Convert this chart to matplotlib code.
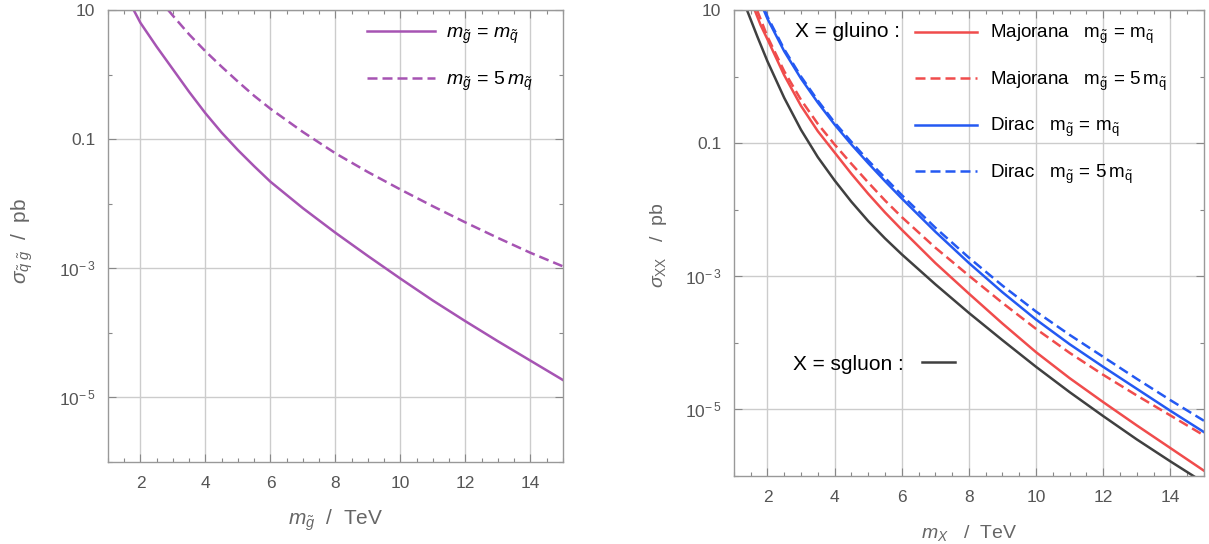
import numpy as np
import matplotlib
matplotlib.use("Agg")
import matplotlib.pyplot as plt
from matplotlib.ticker import FixedLocator, FixedFormatter, MultipleLocator, NullFormatter
from matplotlib.lines import Line2D

plt.rcParams['font.family'] = ['Liberation Sans', 'DejaVu Sans']
plt.rcParams['mathtext.fontset'] = 'custom'
plt.rcParams['mathtext.rm'] = 'Liberation Sans'
plt.rcParams['mathtext.it'] = 'Liberation Sans:italic'
plt.rcParams['mathtext.bf'] = 'Liberation Sans:bold'

# left panel: squark-gluino cross section (log10 of pb)
sq_x_equal = [1.79, 2, 2.5, 3, 3.5, 4, 4.5, 5, 5.5, 6, 7, 8, 9, 10, 11, 12, 13, 14, 15]
sq_log_equal = [1.0, 0.8, 0.43, 0.08, -0.27, -0.6, -0.9, -1.17, -1.42, -1.66, -2.07,
                -2.45, -2.81, -3.16, -3.5, -3.82, -4.13, -4.43, -4.73]
sq_x_five = [2.85, 3, 3.5, 4, 4.5, 5, 5.5, 6, 7, 8, 9, 10, 11, 12, 13, 14, 15]
sq_log_five = [1.0, 0.91, 0.62, 0.36, 0.12, -0.11, -0.33, -0.53, -0.89, -1.22, -1.51,
               -1.78, -2.04, -2.29, -2.53, -2.76, -2.97]

# right panel: pair production of X (log10 of pb)
sgluon_x = [1.39, 1.7, 2, 2.5, 3, 3.5, 4, 4.5, 5, 5.5, 6, 7, 8, 9, 10, 11, 12, 13, 14, 14.75]
sgluon_log = [1.0, 0.6, 0.23, -0.32, -0.8, -1.21, -1.56, -1.88, -2.17, -2.43, -2.67,
              -3.12, -3.55, -3.96, -4.36, -4.74, -5.1, -5.45, -5.78, -6.02]
maj_eq_x = [1.62, 1.8, 2, 2.5, 3, 3.5, 4, 4.5, 5, 5.5, 6, 7, 8, 9, 10, 11, 12, 13, 14, 15]
maj_eq_log = [1.0, 0.77, 0.56, 0.02, -0.44, -0.82, -1.14, -1.46, -1.76, -2.04, -2.3,
              -2.8, -3.26, -3.71, -4.14, -4.53, -4.89, -5.24, -5.58, -5.92]
maj_five_x = [1.69, 2, 2.5, 3, 3.5, 4, 4.5, 5, 5.5, 6, 7, 8, 9, 10, 11, 12, 13, 14, 15]
maj_five_log = [1.0, 0.6, 0.08, -0.35, -0.71, -1.02, -1.31, -1.59, -1.86, -2.11, -2.57,
                -2.99, -3.4, -3.79, -4.15, -4.48, -4.79, -5.09, -5.39]
dir_eq_x = [1.89, 2, 2.5, 3, 3.5, 4, 4.5, 5, 5.5, 6, 7, 8, 9, 10, 11, 12, 13, 14, 15]
dir_eq_log = [1.0, 0.87, 0.38, -0.03, -0.39, -0.72, -1.02, -1.3, -1.57, -1.83, -2.33,
              -2.8, -3.24, -3.65, -4.02, -4.36, -4.69, -5.02, -5.34]
dir_five_x = [1.92, 2, 2.5, 3, 3.5, 4, 4.5, 5, 5.5, 6, 7, 8, 9, 10, 11, 12, 13, 14, 15]
dir_five_log = [1.0, 0.9, 0.41, 0.0, -0.36, -0.69, -0.98, -1.26, -1.52, -1.78, -2.27,
                -2.72, -3.14, -3.53, -3.88, -4.21, -4.54, -4.86, -5.17]

ytick_vals = [10, 0.1, 1e-3, 1e-5]
ytick_labels = ['10', '0.1', r'$\mathregular{10^{-\,3}}$', r'$\mathregular{10^{-\,5}}$']
yminor_vals = [1, 1e-2, 1e-4, 1e-6]

purple = '#a654b3'
red = '#f04c4c'
blue = '#2459f2'
dark = '#404040'
gray_txt = '#666666'

fig = plt.figure(figsize=(12.09, 5.44), dpi=100)
axL = fig.add_axes([0.0893, 0.1507, 0.3763, 0.831])
axR = fig.add_axes([0.607, 0.125, 0.3888, 0.8566])


def style_axes(ax):
    ax.set_yscale('log')
    ax.set_xlim(1, 15)
    ax.set_ylim(1e-6, 10)
    ax.xaxis.set_major_locator(MultipleLocator(2))
    ax.xaxis.set_minor_locator(MultipleLocator(0.5))
    ax.yaxis.set_major_locator(FixedLocator(ytick_vals))
    ax.yaxis.set_major_formatter(FixedFormatter(ytick_labels))
    ax.yaxis.set_minor_locator(FixedLocator(yminor_vals))
    ax.yaxis.set_minor_formatter(NullFormatter())
    ax.tick_params(which='both', direction='in', top=True, right=True,
                   color='#888888', labelcolor='#555555', labelsize=12.5)
    ax.tick_params(which='major', length=6, width=0.8)
    ax.tick_params(which='minor', length=3, width=0.8)
    ax.tick_params(axis='x', which='major', pad=10)
    ax.tick_params(axis='y', which='major', pad=9)
    ax.grid(True, which='major', color='#cccccc', lw=1.0)
    for s in ax.spines.values():
        s.set_color('#999999')
        s.set_linewidth(1.0)


style_axes(axL)
style_axes(axR)

# left panel
l1, = axL.plot(sq_x_equal, 10 ** np.array(sq_log_equal), color=purple, lw=1.8,
               label=r'$m_{\tilde{g}}\,=\,m_{\tilde{q}}$')
l2, = axL.plot(sq_x_five, 10 ** np.array(sq_log_five), color=purple, lw=1.8,
               ls=(0, (4, 2)), label=r'$m_{\tilde{g}}\,=\,\mathregular{5}\,m_{\tilde{q}}$')
axL.legend(handles=[l1, l2], loc='upper left', bbox_to_anchor=(0.57, 0.968),
           frameon=False, fontsize=14, handlelength=3.5, handletextpad=0.55,
           labelspacing=1.2, borderaxespad=0, borderpad=0)
axL.set_xlabel(r'$m_{\tilde{g}}$  /  TeV', fontsize=15, color=gray_txt)
axL.set_ylabel(r'$\sigma_{\tilde{q}\;\tilde{g}}$  /  pb', fontsize=15, color=gray_txt)
axL.xaxis.set_label_coords(0.5, -0.1)
axL.yaxis.set_label_coords(-0.16, 0.49)

# right panel
r_sg, = axR.plot(sgluon_x, 10 ** np.array(sgluon_log), color=dark, lw=1.8)
r1, = axR.plot(maj_eq_x, 10 ** np.array(maj_eq_log), color=red, lw=1.8,
               label=r'Majorana   $\mathregular{m_{\tilde{g}}\,=\,m_{\tilde{q}}}$')
r2, = axR.plot(maj_five_x, 10 ** np.array(maj_five_log), color=red, lw=1.8, ls=(0, (4, 2)),
               label=r'Majorana   $\mathregular{m_{\tilde{g}}\,=\,5\,m_{\tilde{q}}}$')
r3, = axR.plot(dir_eq_x, 10 ** np.array(dir_eq_log), color=blue, lw=1.8,
               label=r'Dirac   $\mathregular{m_{\tilde{g}}\,=\,m_{\tilde{q}}}$')
r4, = axR.plot(dir_five_x, 10 ** np.array(dir_five_log), color=blue, lw=1.8, ls=(0, (4, 2)),
               label=r'Dirac   $\mathregular{m_{\tilde{g}}\,=\,5\,m_{\tilde{q}}}$')

leg1 = axR.legend(handles=[r1, r2, r3, r4], loc='upper left', bbox_to_anchor=(0.385, 0.972),
                  frameon=False, fontsize=13.5, handlelength=3.3, handletextpad=0.7,
                  labelspacing=1.24, borderaxespad=0, borderpad=0)
axR.add_artist(leg1)
axR.legend(handles=[Line2D([], [], color=dark, lw=1.8)], labels=['X = sgluon :'],
           markerfirst=False, loc='center left', bbox_to_anchor=(0.125, 0.24),
           frameon=False, fontsize=15, handlelength=1.6, handletextpad=0.9,
           borderaxespad=0, borderpad=0)
axR.text(0.13, 0.953, 'X = gluino :', transform=axR.transAxes, fontsize=15,
         ha='left', va='center')

axR.set_xlabel(r'$m_X$   /  TeV', fontsize=14, color=gray_txt)
axR.set_ylabel(r'$\sigma_{\mathrm{XX}}$   /  pb', fontsize=14, color=gray_txt)
axR.xaxis.set_label_coords(0.5, -0.1)
axR.yaxis.set_label_coords(-0.137, 0.496)

fig.savefig('out.png', dpi=100)
